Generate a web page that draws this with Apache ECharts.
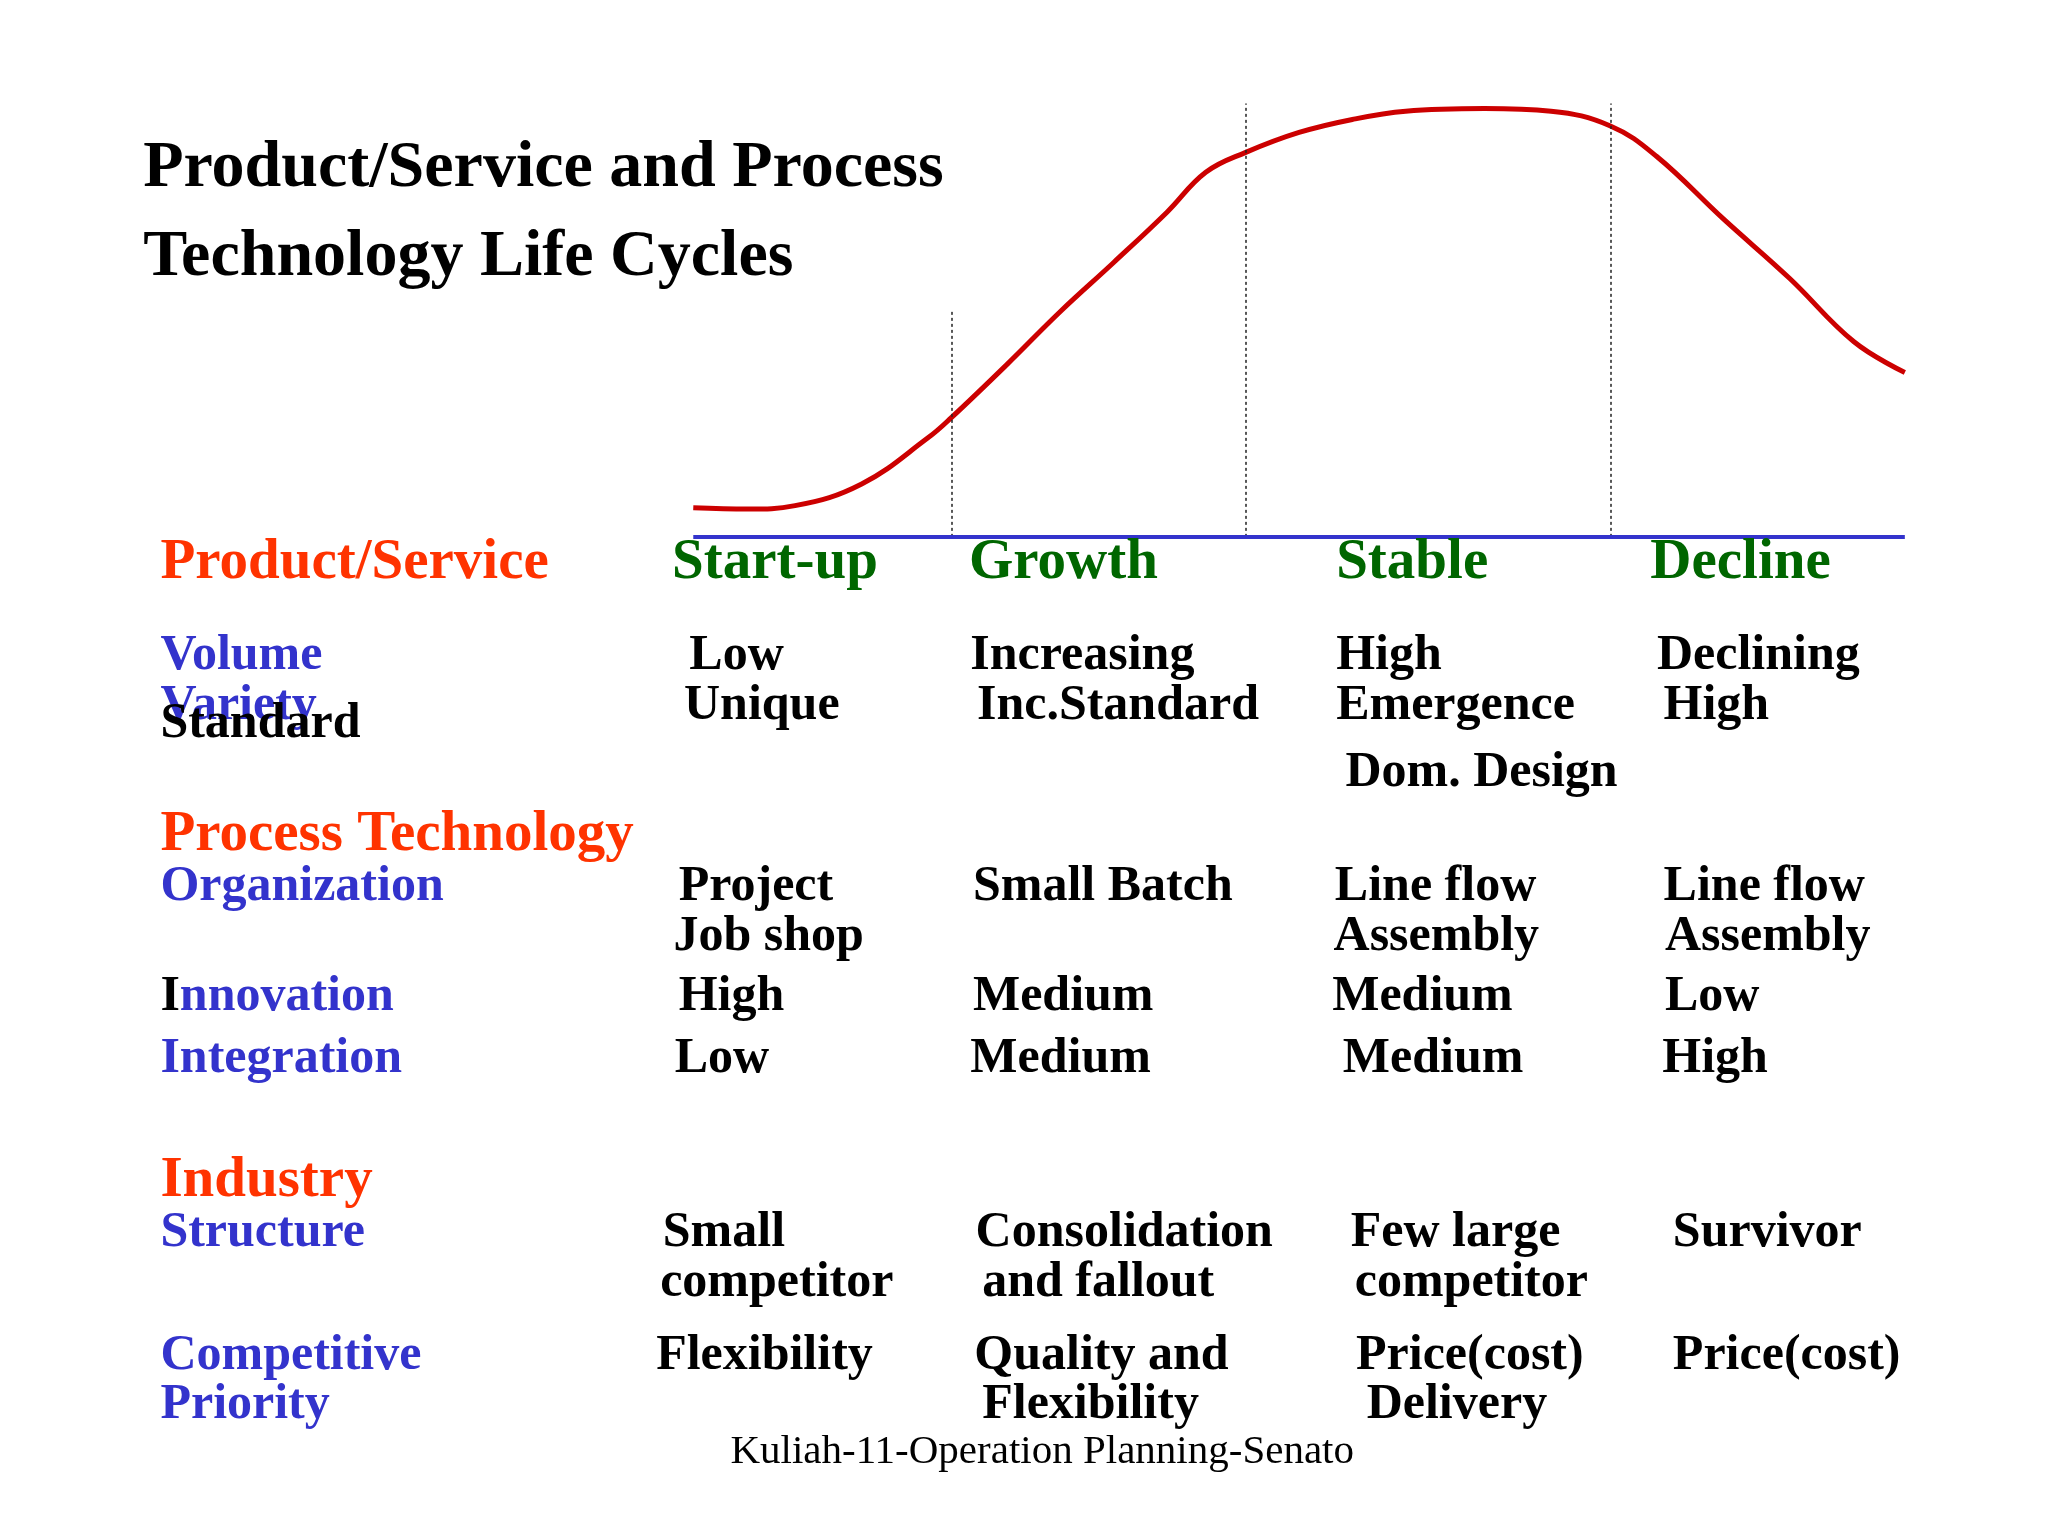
<!DOCTYPE html>
<html><head><meta charset="utf-8">
<script src="https://cdn.jsdelivr.net/npm/echarts@6/dist/echarts.min.js"></script>
<style>html,body{margin:0;background:#fff}#c{width:2048px;height:1536px}</style>
</head><body><div id="c"></div>
<script>
// life cycle curve (x = time 0..100, y = level 0..100)
const curveX = [0, 4.5, 8.4, 13.9, 19.4, 21.3, 25.9, 30.3, 34.7, 39.1, 42.3, 45.6, 50.0, 54.4, 58.8, 65.3, 70.8, 75.7, 79.5, 85.0, 90.5, 95.8, 100]
const curveY = [6.7, 6.4, 7.2, 12.2, 22.9, 27.5, 39.8, 52.0, 63.3, 74.9, 84.1, 88.7, 93.3, 96.3, 98.2, 98.8, 98.2, 94.8, 87.8, 73.4, 59.6, 45.0, 37.9]
const phaseBounds = [21.3, 45.6, 75.7]
const phaseTops = [52, 100, 100]

const S = 2048 / 1545
const F = '"Liberation Serif", "Times New Roman", serif'
const RED = '#ff3300', GREEN = '#006600', BLUE = '#3333cc'

// [x, y, text, color, size]
const labels = [
  [108, 130, 'Product/Service and Process', '#000', 50],
  [108, 197, 'Technology Life Cycles', '#000', 50],
  [121, 427, 'Product/Service', RED, 43],
  [121, 632, 'Process Technology', RED, 43],
  [121, 893, 'Industry', RED, 43],
  [507, 427, 'Start-up', GREEN, 43],
  [731, 427, 'Growth', GREEN, 43],
  [1008, 427, 'Stable', GREEN, 43],
  [1245, 427, 'Decline', GREEN, 43],
  [121, 497, 'Volume', BLUE],
  [121, 535, 'Variety', BLUE],
  [121, 548, 'Standard', '#000'],
  [121, 671, 'Organization', BLUE],
  [121, 801, 'Integration', BLUE],
  [121, 932, 'Structure', BLUE],
  [121, 1025, 'Competitive', BLUE],
  [121, 1062, 'Priority', BLUE],
  [520, 497, 'Low'], [516, 535, 'Unique'], [732, 497, 'Increasing'], [737, 535, 'Inc.Standard'],
  [1008, 497, 'High'], [1008, 535, 'Emergence'], [1015, 585, 'Dom. Design'],
  [1250, 497, 'Declining'], [1255, 535, 'High'],
  [512, 671, 'Project'], [508, 709, 'Job shop'], [734, 671, 'Small Batch'],
  [1007, 671, 'Line flow'], [1006, 709, 'Assembly'], [1255, 671, 'Line flow'], [1256, 709, 'Assembly'],
  [512, 754, 'High'], [734, 754, 'Medium'], [1005, 754, 'Medium'], [1256, 754, 'Low'],
  [509, 801, 'Low'], [732, 801, 'Medium'], [1013, 801, 'Medium'], [1254, 801, 'High'],
  [500, 932, 'Small'], [498, 970, 'competitor'], [736, 932, 'Consolidation'], [741, 970, 'and fallout'],
  [1019, 932, 'Few large'], [1022, 970, 'competitor'], [1262, 932, 'Survivor'],
  [495, 1025, 'Flexibility'], [735, 1025, 'Quality and'], [741, 1062, 'Flexibility'],
  [1023, 1025, 'Price(cost)'], [1031, 1062, 'Delivery'], [1262, 1025, 'Price(cost)']
]
const BODY = 38

const chart = echarts.init(document.getElementById('c'))

const graphics = labels.map(function (l) {
  const size = l[4] || BODY
  return {
    type: 'text', left: l[0] * S, top: (l[1] - size * 0.55) * S, z: 10,
    style: { text: l[2], fill: l[3] || '#000', font: 'bold ' + Math.round(size * S) + 'px ' + F }
  }
})
graphics.push({
  type: 'text', left: 121 * S, top: (754 - BODY * 0.55) * S, z: 10,
  style: {
    text: '{a|I}{b|nnovation}',
    rich: {
      a: { fill: '#000', font: 'bold ' + Math.round(BODY * S) + 'px ' + F },
      b: { fill: BLUE, font: 'bold ' + Math.round(BODY * S) + 'px ' + F }
    }
  }
})
graphics.push({
  type: 'text', left: 551 * S, top: (1097 - 17) * S, z: 10,
  style: { text: 'Kuliah-11-Operation Planning-Senato', fill: '#000', font: Math.round(31 * S) + 'px ' + F }
})

const option = {
  backgroundColor: '#fff',
  animation: false,
  grid: { left: 523 * S, right: 2048 - 1437 * S, top: 78 * S, bottom: 1536 - 405 * S, containLabel: false },
  xAxis: { type: 'value', min: 0, max: 100, show: false },
  yAxis: { type: 'value', min: 0, max: 100, show: false },
  graphic: graphics,
  series: [{
    type: 'line',
    smooth: 0.4,
    symbol: 'none',
    lineStyle: { color: '#cc0000', width: 5 },
    data: curveX.map((x, i) => [x, curveY[i]]),
    markLine: {
      silent: true,
      symbol: ['none', 'none'],
      label: { show: false },
      data: phaseBounds.map((x, i) => [
        { coord: [x, 0], lineStyle: { color: '#222', type: [3, 3], width: 1.5 } },
        { coord: [x, phaseTops[i]] }
      ]).concat([[
        { coord: [0, 0], lineStyle: { color: BLUE, type: 'solid', width: 4 } },
        { coord: [100, 0] }
      ]])
    }
  }]
}

chart.setOption(option)
</script></body></html>
